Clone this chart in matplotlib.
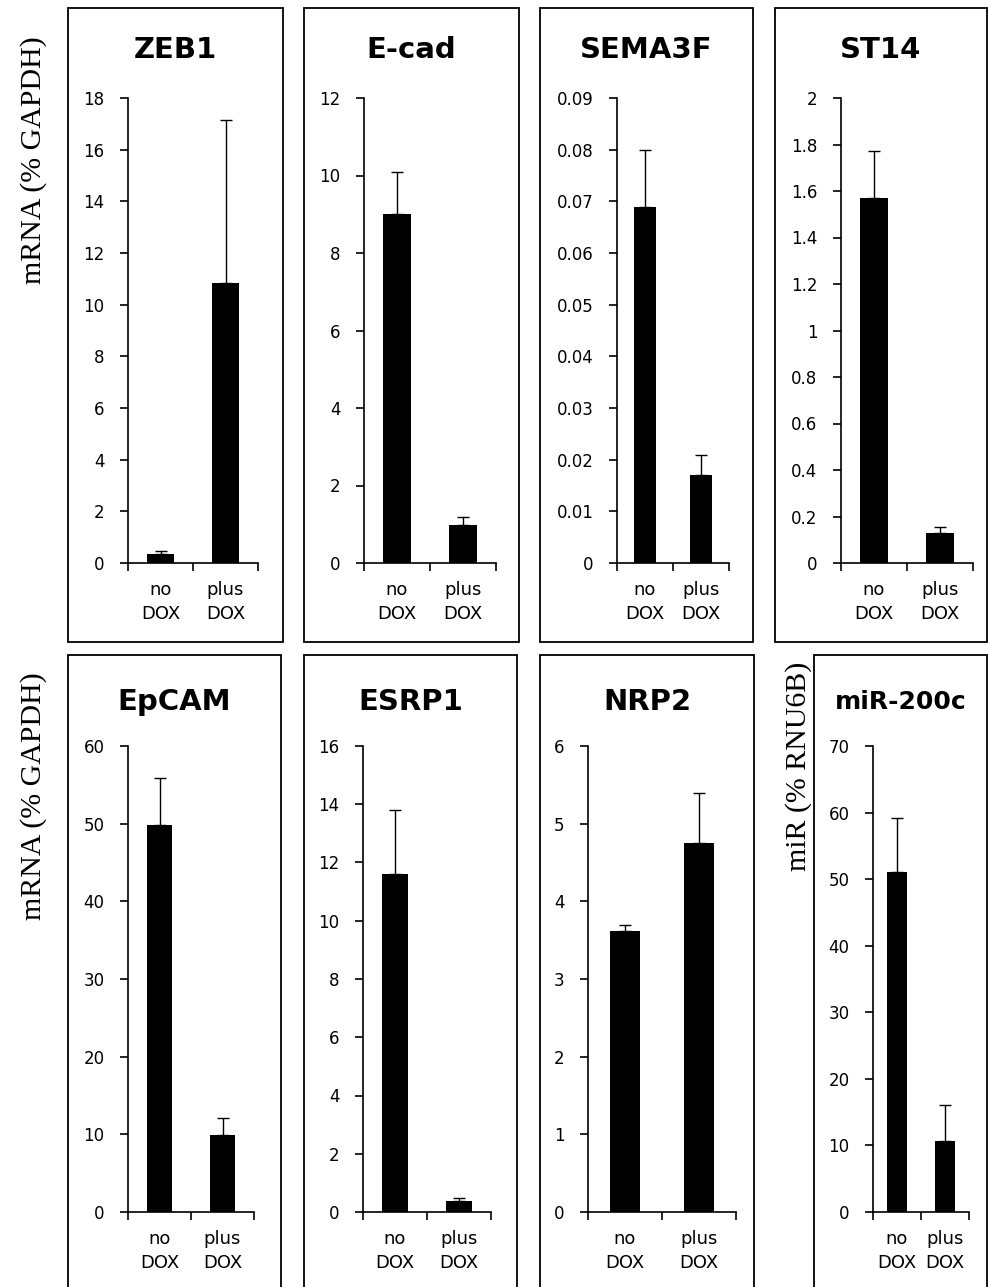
import matplotlib
matplotlib.use('Agg')
import matplotlib.pyplot as plt
from matplotlib.patches import Rectangle
import numpy as np

W, H = 989, 1287

genes = ['ZEB1', 'E-cad', 'SEMA3F', 'ST14', 'EpCAM', 'ESRP1', 'NRP2', 'miR-200c']
groups = ['no\nDOX', 'plus\nDOX']
no_dox = [0.35, 9.0, 0.069, 1.57, 49.8, 11.6, 3.62, 51.1]
plus_dox = [10.85, 0.97, 0.017, 0.13, 9.9, 0.38, 4.75, 10.6]
no_dox_err = [0.12, 1.1, 0.011, 0.20, 6.1, 2.2, 0.08, 8.1]
plus_dox_err = [6.3, 0.22, 0.004, 0.025, 2.2, 0.1, 0.65, 5.5]
y_max = [18, 12, 0.09, 2, 60, 16, 6, 70]
y_step = [2, 2, 0.01, 0.2, 10, 2, 1, 10]
y_labels = ['mRNA (% GAPDH)', 'mRNA (% GAPDH)', 'miR (% RNU6B)']

# layout in pixels
boxes = [(68, 283), (304, 519), (540, 753), (775, 987),
         (68, 281), (304, 517), (540, 754), (814, 987)]
plots = [(128, 258), (364, 496), (617, 729), (841, 973),
         (128, 254), (363, 491), (588, 736), (873, 969)]
box_y = [(8, 642), (655, 1300)]
plot_y = [(98, 563), (746, 1212)]
title_y = [50, 702]

fig = plt.figure(figsize=(W / 100, H / 100), dpi=100)

for i, gene in enumerate(genes):
    row = 0 if i < 4 else 1
    bl, br = boxes[i]
    bt, bb = box_y[row]
    fig.patches.append(Rectangle((bl / W, 1 - bb / H), (br - bl) / W, (bb - bt) / H,
                                 transform=fig.transFigure, fill=False,
                                 ec='black', lw=1.3))
    tsize = 18 if gene == 'miR-200c' else 21
    fig.text((bl + br) / 2 / W, 1 - title_y[row] / H, gene, ha='center', va='center',
             fontsize=tsize, fontweight='bold')

    pl, pr = plots[i]
    pt, pb = plot_y[row]
    ax = fig.add_axes([pl / W, 1 - pb / H, (pr - pl) / W, (pb - pt) / H])
    x = np.arange(2)
    vals = [no_dox[i], plus_dox[i]]
    errs = [no_dox_err[i], plus_dox_err[i]]
    ax.errorbar(x, vals, yerr=[[0, 0], errs], fmt='none', ecolor='black',
                elinewidth=1.0, capsize=4.5, capthick=1.0, zorder=1)
    ax.bar(x, vals, width=0.41, color='black', zorder=2)

    ax.set_xlim(-0.5, 1.5)
    ax.set_ylim(0, y_max[i])
    n = int(round(y_max[i] / y_step[i]))
    ticks = [round(k * y_step[i], 4) for k in range(n + 1)]
    ax.set_yticks(ticks)
    ax.set_yticklabels([f'{t:g}' for t in ticks], fontsize=12)
    ax.set_xticks([-0.5, 0.5, 1.5])
    ax.set_xticklabels([])
    ax.set_xticks(x, groups, minor=True)
    ax.tick_params(axis='x', which='minor', length=0, pad=13, labelsize=13)
    ax.tick_params(axis='x', which='major', length=6, width=1.2, direction='out')
    ax.tick_params(axis='y', length=6, width=1.2, direction='out', pad=11)
    for lbl in ax.get_xticklabels(minor=True):
        lbl.set_linespacing(1.45)
    for s in ['top', 'right']:
        ax.spines[s].set_visible(False)
    for s in ['left', 'bottom']:
        ax.spines[s].set_linewidth(1.2)

fig.text(34 / W, 1 - 160 / H, y_labels[0], rotation=90, ha='center', va='center',
         family='Liberation Serif', fontsize=21.5)
fig.text(34 / W, 1 - 796 / H, y_labels[1], rotation=90, ha='center', va='center',
         family='Liberation Serif', fontsize=21.5)
fig.text(799 / W, 1 - 766 / H, y_labels[2], rotation=90, ha='center', va='center',
         family='Liberation Serif', fontsize=21.5)

fig.savefig('out.png', dpi=100)
